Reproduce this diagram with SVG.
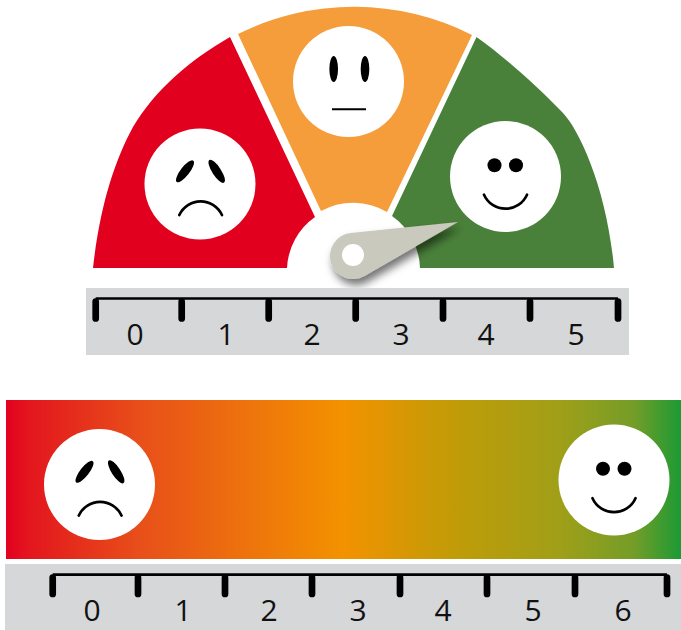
<svg xmlns="http://www.w3.org/2000/svg" xmlns:xlink="http://www.w3.org/1999/xlink" width="681" height="630" viewBox="0 0 681 630">
<style>
.face{fill:#fff}
.ink{fill:#000}
.mouth{fill:none;stroke:#000;stroke-width:2.7;stroke-linecap:round}
.band{fill:#d6d7d9}
.axis{fill:none;stroke:#000;stroke-width:2.7}
.tick{fill:none;stroke:#000;stroke-width:6.7;stroke-linecap:round}
.num{font-family:"Open Sans","Noto Sans",sans-serif;font-size:30px;fill:#111;text-anchor:middle}
</style>
<defs>
<linearGradient id="scale" x1="6" y1="0" x2="681" y2="0" gradientUnits="userSpaceOnUse">
<stop offset="0" stop-color="#e3001f"/>
<stop offset="0.03" stop-color="#e3141e"/>
<stop offset="0.2" stop-color="#e8501a"/>
<stop offset="0.5" stop-color="#f39200"/>
<stop offset="0.67" stop-color="#bf9c08"/>
<stop offset="0.82" stop-color="#a09f18"/>
<stop offset="0.93" stop-color="#749d28"/>
<stop offset="1" stop-color="#1b9a34"/>
</linearGradient>
<filter id="shadow" x="-30%" y="-30%" width="160%" height="170%">
<feDropShadow dx="3" dy="6" stdDeviation="4" flood-color="#000" flood-opacity="0.55"/>
</filter>
<g id="sad">
<circle class="face" r="55.5"/>
<ellipse class="ink" cx="-15" cy="-12.7" rx="4.4" ry="13.5" transform="rotate(38 -15 -12.7)"/>
<ellipse class="ink" cx="16.7" cy="-12.7" rx="4.4" ry="13.5" transform="rotate(-33 16.7 -12.7)"/>
<path class="mouth" d="M-20.7 31A23.5 23.5 0 0 1 22 31"/>
</g>
<g id="happy">
<circle class="face" r="55.5"/>
<circle class="ink" cx="-11" cy="-11.2" r="7"/>
<circle class="ink" cx="10.5" cy="-11.2" r="7"/>
<path class="mouth" d="M-21.5 18.2A23.5 23.5 0 0 0 21.5 18.2"/>
</g>
</defs>
<g id="segment-red"><path fill="#e2001f" d="M93 268C100 205 115 160 133 127C155 90 190 60 230 37L315 217A66 66 0 0 0 287 268Z"/></g>
<g id="segment-orange"><path fill="#f59d3a" d="M238 34A261 261 0 0 1 472 35L387 212A66 66 0 0 0 321 211Z"/></g>
<g id="segment-green"><path fill="#4a813a" d="M476.5 37C502 55 535 84 563 113C580 131 607 190 614 268L420 268A66 66 0 0 0 392 216Z"/></g>
<g id="face-sad-top"><use href="#sad" x="200" y="184"/></g>
<g id="face-neutral">
<circle class="face" cx="348.5" cy="81.5" r="55.5"/>
<ellipse class="ink" cx="333.7" cy="69" rx="4.3" ry="13"/>
<ellipse class="ink" cx="365" cy="69" rx="4.3" ry="13"/>
<path d="M332 109.3H366" fill="none" stroke="#000" stroke-width="2"/>
</g>
<g id="face-happy-top"><use href="#happy" x="505.5" y="176.5"/></g>
<g id="needle">
<path fill="#c9c9bd" filter="url(#shadow)" d="M458 222L350.6 233.1A23 23 0 1 0 364.5 275.9Z"/>
<circle class="face" cx="353" cy="255" r="11"/>
</g>
<g id="ruler-top">
<rect class="band" x="86" y="288" width="543" height="67"/>
<path class="axis" d="M95.7 298.5H618"/>
<path class="tick" d="M95.7 301.5V318.5M181.7 301.5V318.5M268.7 301.5V318.5M355.7 301.5V318.5M443 301.5V318.5M530 301.5V318.5M618 301.5V318.5"/>
<text class="num" x="135" y="344.5">0</text>
<text class="num" x="226" y="344.5">1</text>
<text class="num" x="312" y="344.5">2</text>
<text class="num" x="401" y="344.5">3</text>
<text class="num" x="486" y="344.5">4</text>
<text class="num" x="576" y="344.5">5</text>
</g>
<g id="gradient-bar"><rect x="6" y="400" width="675" height="159" fill="url(#scale)"/></g>
<g id="face-sad-bottom"><use href="#sad" x="99.5" y="484.5"/></g>
<g id="face-happy-bottom"><use href="#happy" x="614" y="480"/></g>
<g id="ruler-bottom">
<rect class="band" x="5" y="564" width="676" height="66"/>
<path class="axis" d="M52.7 574.7H667"/>
<path class="tick" d="M52.7 577.5V594M138 577.5V594M225 577.5V594M312 577.5V594M400 577.5V594M487 577.5V594M575 577.5V594M667 577.5V594"/>
<text class="num" x="92" y="620.5">0</text>
<text class="num" x="183" y="620.5">1</text>
<text class="num" x="269" y="620.5">2</text>
<text class="num" x="358" y="620.5">3</text>
<text class="num" x="443" y="620.5">4</text>
<text class="num" x="533" y="620.5">5</text>
<text class="num" x="623" y="620.5">6</text>
</g>
</svg>
